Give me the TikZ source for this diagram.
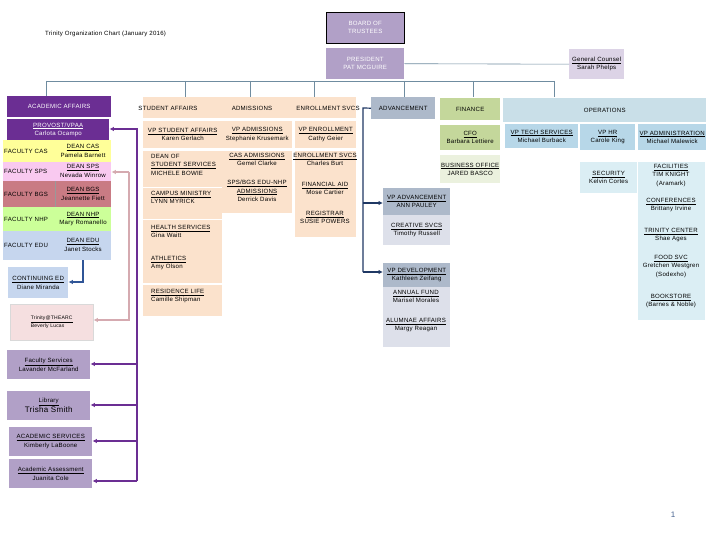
\documentclass[tikz,border=0pt]{standalone}
\usepackage{fontspec}
\setmainfont{Liberation Sans}[LetterSpace=4]
\usetikzlibrary{arrows.meta}
\definecolor{dpurp}{HTML}{6B2E93}
\definecolor{lpurp}{HTML}{B1A0C7}
\definecolor{gpurp}{HTML}{DCD3E6}
\definecolor{peach}{HTML}{FBE2CC}
\definecolor{advd}{HTML}{ADB9CA}
\definecolor{advl}{HTML}{DDE0EA}
\definecolor{fing}{HTML}{C4D79B}
\definecolor{finl}{HTML}{EBF1DE}
\definecolor{opsh}{HTML}{C9DFE8}
\definecolor{opsv}{HTML}{B7D7E8}
\definecolor{opsl}{HTML}{DBEEF4}
\definecolor{cas}{HTML}{FFFF99}
\definecolor{sps}{HTML}{F9C9F0}
\definecolor{bgs}{HTML}{C97B84}
\definecolor{nhp}{HTML}{CCFF99}
\definecolor{edu}{HTML}{C6D6EE}
\definecolor{arc}{HTML}{F5DFE0}
\definecolor{navy}{HTML}{1F3864}
\definecolor{blu}{HTML}{2F5597}
\definecolor{pinkl}{HTML}{D5AAB0}
\definecolor{busc}{HTML}{6F8CA0}
\newcommand\tf{\fontsize{6.1}{8.4}\selectfont}
\newcommand\bx[7]{\node[bxs,fill=#6,minimum width=#4,minimum height=#5] (#1) at (#2,#3) {#7};}
\tikzset{
  bxs/.style={anchor=north west,inner sep=0pt,align=center,font=\tf},
  tx/.style={inner sep=0pt,align=center,font=\tf,anchor=north},
  txl/.style={inner sep=0pt,align=left,font=\tf,anchor=north west},
  bus/.style={draw=busc,line width=0.6pt},
  arr/.style={line width=1.2pt,-{Latex[length=4.5pt,width=4.5pt]}}
}
\begin{document}
\begin{tikzpicture}[x=1pt,y=-1pt]
\useasboundingbox[fill=white] (0,0) rectangle (720,540);
\node[txl,anchor=west] (title) at (45,34) {Trinity Organization Chart (January 2016)};
% top
\node[bxs,fill=lpurp,draw=black,minimum width=78,minimum height=31,text=white] (board) at (326,12) {BOARD OF\\TRUSTEES};
\bx{pres}{326}{48}{78}{31}{lpurp}{\color{white}PRESIDENT\\\color{white}PAT MCGUIRE}
\bx{gc}{569}{49}{55}{30}{gpurp}{\underline{General Counsel}\\Sarah Phelps}
\draw[bus] (pres.east) -- (gc.west);
\coordinate (bl) at (46,81); \coordinate (br) at (554,81);
\draw[bus] (bl) -- (br);
\foreach \x in {46,185,250,314,404,473,554} \draw[bus] (\x,81) -- (\x,97);
% academic
\bx{aa}{7}{96}{104}{21}{dpurp}{\color{white}ACADEMIC AFFAIRS}
\bx{prov}{7}{119}{102}{21}{dpurp}{\color{white}\underline{PROVOST/VPAA}\\\color{white}Carlota Ocampo}
\bx{fcas}{3}{140}{108}{22}{cas}{}
\bx{fsps}{3}{162}{108}{19}{sps}{}
\bx{fbgs}{3}{181}{108}{26}{bgs}{}
\bx{fnhp}{3}{207}{108}{24}{nhp}{}
\bx{fedu}{3}{231}{108}{29}{edu}{}
\draw[black!40] (55,181) -- (55,207);
\foreach \n/\y/\a/\b/\c in {cas/151/FACULTY CAS/DEAN CAS/Pamela Barnett,sps/171/FACULTY SPS/DEAN SPS/Nevada Winrow,bgs/194/FACULTY BGS/DEAN BGS/Jeannette Fiett,nhp/219/FACULTY NHP/DEAN NHP/Mary Romanello,edu/245/FACULTY EDU/DEAN EDU/Janet Stocks}{
  \node[txl,anchor=west] (l\n) at (4,\y) {\a};
  \node[tx,anchor=center] (d\n) at (83,\y) {\underline{\b}\\\c};
}
\bx{ced}{8}{267}{60}{31}{edu}{\underline{CONTINUING ED}\\Diane Miranda}
\node[bxs,fill=arc,draw=black!15,minimum width=83,minimum height=36,align=left] (arc) at (10,304) {\fontsize{5}{10}\selectfont\underline{Trinity@THEARC}\\\fontsize{5}{10}\selectfont Beverly Lucas};
\bx{fs}{7}{350}{83}{29}{lpurp}{\underline{Faculty Services}\\Lavander McFarland}
\bx{lib}{7}{391}{83}{29}{lpurp}{\underline{Library}\\{\fontsize{8}{9}\selectfont Trisha Smith}}
\bx{as}{9}{427}{83}{29}{lpurp}{\underline{ACADEMIC SERVICES}\\Kimberly LaBoone}
\bx{aas}{9}{459}{83}{29}{lpurp}{\underline{Academic Assessment}\\Juanita Cole}
\draw[arr,blu] (83,260) |- (ced.east|-0,282);
\draw[arr,pinkl] (129,172) -- (129,320) -- (arc.east|-0,320);
\draw[arr,pinkl] (129,172) -- (fsps.east|-0,172);
\draw[arr,dpurp] (137,481) |- (prov.east|-0,129);
\foreach \t/\y in {fs/364,lib/405,as/441,aas/481} \draw[arr,dpurp] (137,\y) -- (\t.east|-0,\y);
% student affairs
\bx{sa}{143}{97}{213}{21}{peach}{}
\node[tx,anchor=center] (tsa) at (168,108) {STUDENT AFFAIRS};
\node[tx,anchor=center] (tad) at (252,108) {ADMISSIONS};
\node[tx,anchor=center] (ten) at (328,108) {ENROLLMENT SVCS};
\bx{vpsa}{143}{121}{79}{27}{peach}{\underline{VP STUDENT AFFAIRS}\\Karen Gerlach}
\bx{vpad}{222}{121}{70}{27}{peach}{\underline{VP ADMISSIONS}\\Stephanie Krusemark}
\bx{vpen}{295}{121}{61}{27}{peach}{\underline{VP ENROLLMENT}\\Cathy Geier}
\bx{c1a}{143}{151}{79}{37}{peach}{}
\bx{c1b}{143}{188}{79}{32}{peach}{}
\bx{c1c}{143}{220}{79}{63}{peach}{}
\bx{c1d}{143}{285}{79}{31}{peach}{}
\draw[white,line width=1pt] (143,188) -- (222,188) (143,220) -- (222,220);
\node[txl] (dss) at (151,154) {DEAN OF\\\underline{STUDENT SERVICES}\\MICHELE BOWIE};
\node[txl] (cm) at (151,191) {\underline{CAMPUS MINISTRY}\\LYNN MYRICK};
\node[txl] (hs) at (151,225) {\underline{HEALTH SERVICES}\\Gina Waitt};
\node[txl] (ath) at (151,256) {\underline{ATHLETICS}\\Amy Olson};
\node[txl] (rl) at (151,289) {\underline{RESIDENCE LIFE}\\Camille Shipman};
\bx{c2}{222}{151}{70}{62}{peach}{}
\node[tx] (casad) at (257,153) {\underline{CAS ADMISSIONS}\\Gemel Clarke};
\node[tx] (spsad) at (257,180) {\underline{SPS/BGS EDU-NHP}\\\underline{ADMISSIONS}\\Derrick Davis};
\bx{c3}{295}{151}{61}{86}{peach}{}
\node[tx] (ens) at (325,153) {\underline{ENROLLMENT SVCS}\\Charles Burt};
\node[tx] (fa) at (325,182) {\underline{FINANCIAL AID}\\Mose Cartier};
\node[tx] (reg) at (325,211) {\underline{REGISTRAR}\\SUSIE POWERS};
% advancement
\bx{adv}{371}{97}{64}{22}{advd}{ADVANCEMENT}
\bx{vpadv}{383}{188}{67}{27}{advd}{\underline{VP ADVANCEMENT}\\ANN PAULEY}
\bx{cre}{383}{215}{67}{30}{advl}{\underline{CREATIVE SVCS}\\Timothy Russell}
\bx{vpdev}{383}{263}{67}{24}{advd}{\underline{VP DEVELOPMENT}\\Kathleen Zeifang}
\bx{dev2}{383}{287}{67}{60}{advl}{}
\node[tx] (af) at (416,290) {\underline{ANNUAL FUND}\\Marisel Morales};
\node[tx] (al) at (416,318) {\underline{ALUMNAE AFFAIRS}\\Margy Reagan};
\draw[navy,line width=1.2pt] (adv.west) -- (363,108) -- (363,272);
\draw[arr,navy] (363,203) -- (vpadv.west|-0,203);
\draw[arr,navy] (363,272) -- (vpdev.west|-0,272);
% finance
\bx{fin}{440}{98}{60}{22}{fing}{FINANCE}
\bx{cfo}{440}{125}{60}{25}{fing}{\underline{CFO}\\Barbara Lettiere}
\bx{bo}{440}{155}{60}{28}{finl}{\underline{BUSINESS OFFICE}\\JARED BASCO}
% operations
\bx{ops}{503}{98}{203}{24}{opsh}{OPERATIONS}
\bx{vpts}{505}{124}{73}{24}{opsv}{\underline{VP TECH SERVICES}\\Michael Burback}
\bx{vphr}{580}{124}{55}{26}{opsv}{\underline{VP HR}\\Carole King}
\bx{vpadm}{638}{124}{68}{26}{opsv}{\underline{VP ADMINISTRATION}\\Michael Malewick}
\bx{sec}{580}{162}{57}{31}{opsl}{\underline{SECURITY}\\Kelvin Cortes}
\bx{oc}{638}{162}{67}{158}{opsl}{}
\node[tx] (fac) at (671,164) {\underline{FACILITIES}\\TIM KNIGHT\\(Aramark)};
\node[tx] (conf) at (671,198) {\underline{CONFERENCES}\\Brittany Irvine};
\node[tx] (tc) at (671,228) {\underline{TRINITY CENTER}\\Shae Ages};
\node[tx] (food) at (671,255) {\underline{FOOD SVC}\\Gretchen Westgren\\(Sodexho)};
\node[tx] (book) at (671,294) {\underline{BOOKSTORE}\\(Barnes \& Noble)};
\node[font=\fontsize{8}{9}\selectfont,text=blu!70!gray] (pg) at (673,515) {1};
\end{tikzpicture}
\end{document}
